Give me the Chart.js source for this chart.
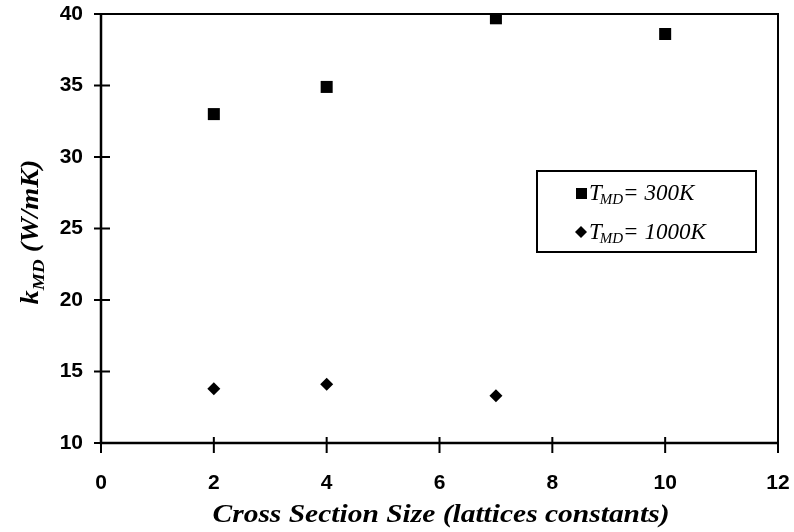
<!DOCTYPE html>
<html>
<head>
<meta charset="utf-8">
<script src="https://cdn.jsdelivr.net/npm/chart.js@4/dist/chart.umd.min.js"></script>
<style>
  html, body { margin: 0; padding: 0; background: #fff; }
  #wrap { width: 794px; height: 532px; position: relative; }
</style>
</head>
<body>
<div id="wrap"><canvas id="grafico"></canvas></div>
<script>
// --- dados ---
const tamanhos300 = [2, 4, 7, 10];
const valores300 = [33.0, 34.9, 39.7, 38.6];
const tamanhos1000 = [2, 4, 7];
const valores1000 = [13.8, 14.1, 13.3];
const ticksX = [0, 2, 4, 6, 8, 10, 12];
const ticksY = [10, 15, 20, 25, 30, 35, 40];
const legendas = [
    { sub: 'MD', resto: '= 300K', forma: 'rect' },
    { sub: 'MD', resto: '= 1000K', forma: 'rectRot' }
];

const SERIF = '"Liberation Serif", "Times New Roman", serif';
const SANS = '"Liberation Sans", Arial, sans-serif';

// escreve texto esticado na horizontal até a largura pedida (centrado em 0)
function textoEsticado(ctx, pedacos, largura) {
    let total = 0;
    pedacos.forEach(p => { ctx.font = p.f; total += ctx.measureText(p.t).width; });
    const k = largura / total;
    ctx.scale(k, 1);
    let cx = -total / 2;
    ctx.textAlign = 'left';
    pedacos.forEach(p => {
        ctx.font = p.f;
        ctx.fillText(p.t, cx, p.dy || 0);
        cx += ctx.measureText(p.t).width;
    });
}

// Moldura, marcas de escala, títulos e legenda (com subscritos)
const extras = {
    id: 'extras',
    afterDraw(chart) {
        const { ctx, chartArea: a, scales: { x, y } } = chart;
        ctx.save();
        ctx.strokeStyle = '#000';
        ctx.fillStyle = '#000';

        // moldura
        ctx.lineWidth = 2;
        ctx.strokeRect(a.left, a.top, a.right - a.left, a.bottom - a.top);
        ctx.lineWidth = 2.5;
        ctx.beginPath();
        ctx.moveTo(a.left, a.top); ctx.lineTo(a.left, a.bottom); ctx.lineTo(a.right, a.bottom);
        ctx.stroke();

        // marcas
        ctx.lineWidth = 2;
        ctx.beginPath();
        ticksY.forEach(v => {
            const py = y.getPixelForValue(v);
            ctx.moveTo(a.left - 7, py); ctx.lineTo(a.left + 9, py);
        });
        ticksX.forEach(v => {
            const px = x.getPixelForValue(v);
            ctx.moveTo(px, a.bottom - 6); ctx.lineTo(px, a.bottom + 10);
        });
        ctx.stroke();

        ctx.textBaseline = 'alphabetic';

        // título do eixo X
        ctx.save();
        ctx.translate(441, 522);
        textoEsticado(ctx, [{ t: 'Cross Section Size (lattices constants)', f: 'bold italic 25px ' + SERIF }], 457);
        ctx.restore();

        // título do eixo Y (rotacionado)
        ctx.save();
        ctx.translate(38, 232);
        ctx.rotate(-Math.PI / 2);
        textoEsticado(ctx, [
            { t: 'k', f: 'bold italic 25px ' + SERIF },
            { t: 'MD', f: 'bold italic 17px ' + SERIF, dy: 6 },
            { t: ' (W/mK)', f: 'bold italic 25px ' + SERIF }
        ], 145);
        ctx.restore();

        // legenda
        ctx.lineWidth = 2;
        ctx.strokeRect(537, 171, 219, 81);
        legendas.forEach((l, i) => {
            const my = 193 + i * 39;
            ctx.beginPath();
            if (l.forma === 'rect') {
                ctx.rect(576, my - 5, 11, 11);
            } else {
                ctx.moveTo(581, my - 6); ctx.lineTo(587, my); ctx.lineTo(581, my + 6); ctx.lineTo(575, my);
                ctx.closePath();
            }
            ctx.fill();
            let tx = 589;
            const base = my + 7;
            ctx.textAlign = 'left';
            ctx.font = 'italic 23px ' + SERIF;
            ctx.fillText('T', tx, base);
            tx += ctx.measureText('T').width - 2;
            ctx.font = 'italic 15px ' + SERIF;
            ctx.fillText(l.sub, tx, base + 4);
            tx += ctx.measureText(l.sub).width;
            ctx.font = 'italic 23px ' + SERIF;
            ctx.fillText(l.resto, tx, base);
        });
        ctx.restore();
    }
};

new Chart(document.getElementById('grafico'), {
    type: 'scatter',
    data: {
        datasets: [
            {
                label: 'T_MD = 300K',
                data: tamanhos300.map((t, i) => ({ x: t, y: valores300[i] })),
                pointStyle: 'rect',
                pointRadius: 8.5,
                backgroundColor: '#000',
                borderColor: '#000',
                borderWidth: 0
            },
            {
                label: 'T_MD = 1000K',
                data: tamanhos1000.map((t, i) => ({ x: t, y: valores1000[i] })),
                pointStyle: 'rectRot',
                pointRadius: 6.5,
                backgroundColor: '#000',
                borderColor: '#000',
                borderWidth: 0
            }
        ]
    },
    options: {
        responsive: true,
        maintainAspectRatio: false,
        animation: false,
        layout: { padding: { top: 14, right: 16, left: 0, bottom: 0 } },
        plugins: {
            legend: { display: false },
            tooltip: { enabled: false }
        },
        scales: {
            x: {
                type: 'linear',
                min: 0, max: 12,
                afterBuildTicks: s => { s.ticks = ticksX.map(v => ({ value: v })); },
                afterFit: s => { s.height = 89; s.paddingLeft = 0; s.paddingRight = 0; },
                grid: { display: false, drawTicks: false },
                border: { display: false },
                ticks: { color: '#000', padding: 28, font: { family: SANS, size: 21, weight: 'bold' } }
            },
            y: {
                min: 10, max: 40,
                afterBuildTicks: s => { s.ticks = ticksY.map(v => ({ value: v })); },
                afterFit: s => { s.width = 101; s.paddingTop = 0; s.paddingBottom = 0; },
                grid: { display: false, drawTicks: false },
                border: { display: false },
                ticks: { color: '#000', padding: 18, font: { family: SANS, size: 21, weight: 'bold' } }
            }
        }
    },
    plugins: [extras]
});
</script>
</body>
</html>
